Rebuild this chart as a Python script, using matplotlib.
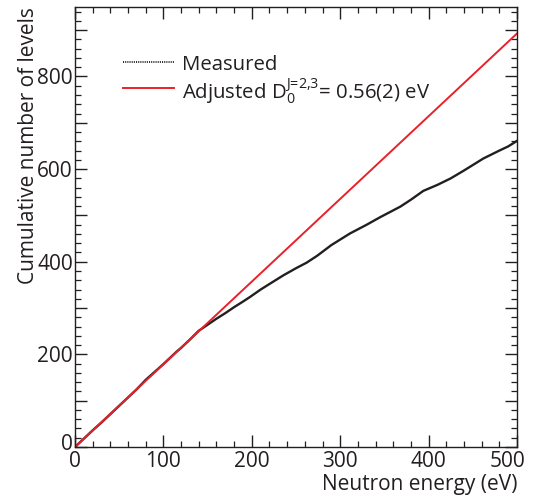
import matplotlib
matplotlib.use("Agg")
import matplotlib.pyplot as plt
from matplotlib.ticker import MultipleLocator, FixedLocator, FuncFormatter
from matplotlib.transforms import ScaledTranslation

plt.rcParams['font.family'] = ['Open Sans', 'DejaVu Sans']
plt.rcParams['mathtext.fontset'] = 'custom'
plt.rcParams['mathtext.rm'] = 'Open Sans'
plt.rcParams['mathtext.it'] = 'Open Sans:italic'

TEXT = '#231f20'
RED = '#e8212a'

# Measured cumulative level count vs neutron energy
energy_eV = [0, 10, 20, 30, 40, 50, 60, 70, 80, 90, 100, 110, 115, 120, 130,
             140, 150, 160, 170, 180, 190, 198, 210, 220, 236, 250, 262, 274,
             290, 311, 330, 345, 368, 380, 394, 410, 425, 440, 462, 480, 490, 500]
cumulative_levels = [0, 18, 36, 53, 71, 89, 107, 125, 145, 162, 179, 197, 206,
                     214, 232, 251, 264, 277, 289, 302, 314, 324, 340, 352, 371,
                     386, 398, 413, 436, 461, 480, 496, 519, 534, 553, 566, 580,
                     597, 623, 640, 649, 661]

# Adjusted average level spacing (eV)
D0 = 0.56
fit_energy = [0, 500]
fit_levels = [e / D0 for e in fit_energy]

x_ticks = [0, 100, 200, 300, 400, 500]
y_ticks = [0, 200, 400, 600, 800]

fig = plt.figure(figsize=(5.35, 4.97), dpi=100)
ax = fig.add_axes([0.1402, 0.1006, 0.8262, 0.8853])

ax.plot(energy_eV, cumulative_levels, color=TEXT, lw=1.7, solid_joinstyle='round')
ax.plot(fit_energy, fit_levels, color=RED, lw=1.4)

ax.set_xlim(0, 500)
ax.set_ylim(0, 950)

ax.xaxis.set_major_locator(FixedLocator(x_ticks))
ax.xaxis.set_minor_locator(MultipleLocator(20))
ax.yaxis.set_major_locator(FixedLocator(list(range(0, 1000, 100))))
ax.yaxis.set_major_formatter(
    FuncFormatter(lambda v, p: f"{int(round(v))}" if int(round(v)) in y_ticks else ""))
ax.yaxis.set_minor_locator(MultipleLocator(20))

ax.tick_params(which='both', direction='in', top=True, right=True, colors=TEXT,
               labelcolor=TEXT, labelsize=15)
ax.tick_params(which='major', length=8.5, width=1.0)
ax.tick_params(which='minor', length=4.3, width=0.9)
ax.tick_params(axis='x', which='major', pad=3)
ax.tick_params(axis='y', which='major', pad=1.5)

for s in ax.spines.values():
    s.set_color(TEXT)
    s.set_linewidth(1.0)

# nudge the corner "0" on y upward and the last x label inward
ytk = ax.yaxis.get_major_ticks()
ytk[0].label1.set_transform(ytk[0].label1.get_transform()
                            + ScaledTranslation(0, 0.05, fig.dpi_scale_trans))
xtk = ax.xaxis.get_major_ticks()
xtk[-1].label1.set_transform(xtk[-1].label1.get_transform()
                             + ScaledTranslation(-0.10, 0, fig.dpi_scale_trans))

ax.set_xlabel("Neutron energy (eV)", loc='right', fontsize=15, color=TEXT, labelpad=1)
ax.set_ylabel("Cumulative number of levels", loc='top', fontsize=15, color=TEXT, labelpad=-1)

# Legend drawn in axes coordinates
lx0, lx1, tx = 0.109, 0.225, 0.241
y1, y2 = 0.874, 0.815
ax.plot([lx0, lx1], [y1, y1], transform=ax.transAxes, color=TEXT, lw=1.3,
        linestyle=(0, (0.6, 0.6)))
ax.plot([lx0, lx1], [y2, y2], transform=ax.transAxes, color=RED, lw=1.4)
ax.text(tx, y1, "Measured", transform=ax.transAxes, fontsize=14.7, color=TEXT,
        va='center_baseline')
ax.text(tx, y2, r"Adjusted D$_\text{0}^\text{J=2,3}$= 0.56(2) eV",
        transform=ax.transAxes, fontsize=14.7, color=TEXT, va='center_baseline')

fig.savefig("out.png", dpi=100)
